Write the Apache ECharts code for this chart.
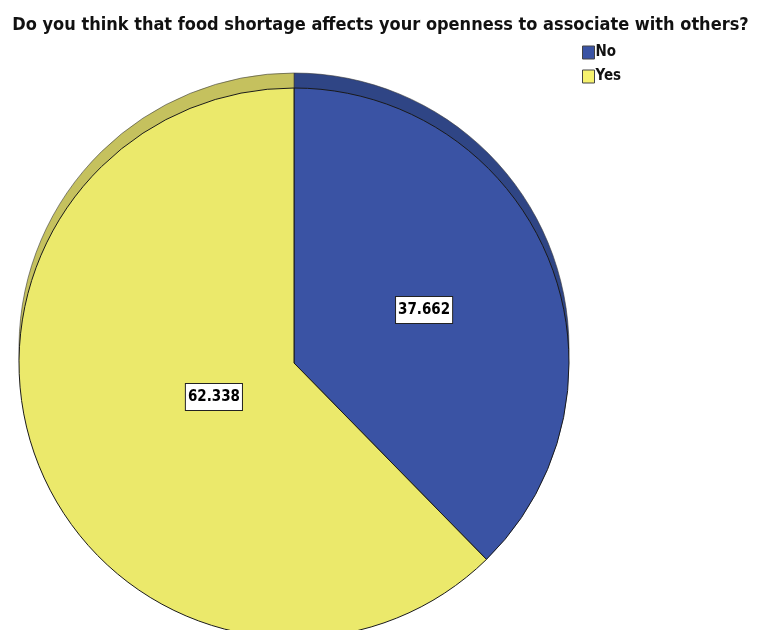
<!DOCTYPE html>
<html>
<head>
<meta charset="utf-8">
<style>
  html, body { margin: 0; padding: 0; background: #ffffff; }
  #chart { width: 761px; height: 630px; }
</style>
<script src="https://cdn.jsdelivr.net/npm/echarts@6/dist/echarts.min.js"></script>
</head>
<body>
<div id="chart"></div>
<script>
// Survey answers (percent of respondents)
const categories = ['No', 'Yes'];
const percents = [37.662, 62.338];

const titleText = 'Do you think that food shortage affects your openness to associate with others?';

// Face colours and the darker shades used for the pie's raised rim
const faceColors = ['#3a53a4', '#ebe96b'];
const rimColors = ['#2f4585', '#c5c15e'];
const legendColors = ['#3a53a4', '#f6f26e'];

const fontFamily = '"DejaVu Sans Condensed", "Liberation Sans Narrow", "Liberation Sans", sans-serif';

const faceData = categories.map((name, i) => ({
  name: name,
  value: percents[i],
  itemStyle: { color: faceColors[i] },
  label: i === 1 ? { offset: [50, -19] } : {}
}));

const rimData = categories.map((name, i) => ({
  name: name,
  value: percents[i],
  itemStyle: { color: rimColors[i] }
}));

const chart = echarts.init(document.getElementById('chart'), null, { renderer: 'canvas' });

chart.setOption({
  animation: false,
  backgroundColor: '#ffffff',
  color: legendColors,
  title: {
    text: titleText,
    left: 'center',
    top: 11,
    textStyle: {
      fontFamily: fontFamily,
      fontSize: 18,
      fontWeight: 'bold',
      color: '#111111'
    }
  },
  legend: {
    orient: 'vertical',
    left: 577,
    top: 40,
    itemWidth: 12,
    itemHeight: 13,
    itemGap: 9,
    icon: 'rect',
    data: categories.map((name, i) => ({
      name: name,
      itemStyle: { color: legendColors[i], borderColor: '#444444', borderWidth: 1 }
    })),
    textStyle: {
      fontFamily: fontFamily,
      fontSize: 15,
      fontWeight: 'bold',
      color: '#111111',
      padding: [0, 0, 0, -4]
    }
  },
  series: [
    {
      // raised rim behind the face
      name: 'rim',
      type: 'pie',
      center: [294, 348],
      radius: [0, 275],
      startAngle: 90,
      clockwise: true,
      silent: true,
      z: 1,
      label: { show: false },
      labelLine: { show: false },
      itemStyle: { borderColor: '#3a3a3a', borderWidth: 0.6 },
      emphasis: { disabled: true },
      data: rimData
    },
    {
      name: 'answers',
      type: 'pie',
      center: [294, 363],
      radius: [0, 275],
      startAngle: 90,
      clockwise: true,
      z: 2,
      itemStyle: { borderColor: '#1a1a1a', borderWidth: 1 },
      emphasis: { disabled: true },
      label: {
        show: true,
        position: 'inside',
        formatter: p => p.value.toFixed(3),
        fontFamily: fontFamily,
        fontSize: 15,
        fontWeight: 'bold',
        color: '#000000',
        backgroundColor: '#ffffff',
        borderColor: '#222222',
        borderWidth: 1,
        padding: [6, 2, 5, 2]
      },
      labelLine: { show: false },
      data: faceData
    }
  ]
});
</script>
</body>
</html>
